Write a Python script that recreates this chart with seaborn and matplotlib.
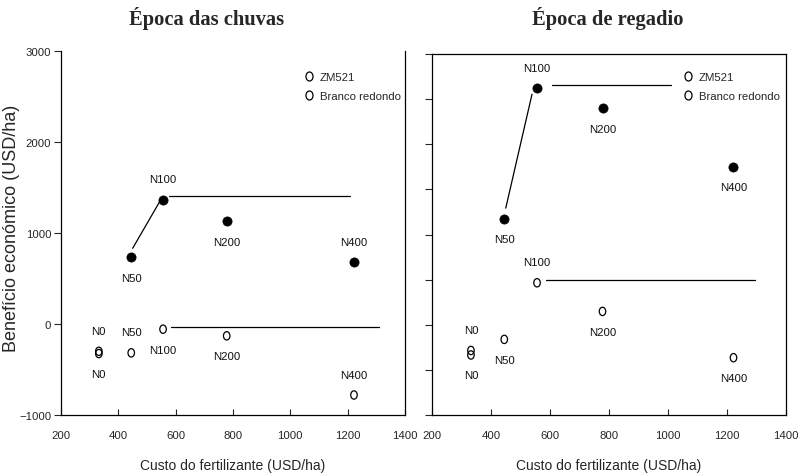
import numpy as np
import pandas as pd
import matplotlib
matplotlib.use("Agg")
import matplotlib.pyplot as plt
from matplotlib.path import Path
from matplotlib.lines import Line2D
import seaborn as sns

# Fertiliser treatments and their cost (USD/ha)
treatments = ["N0", "N50", "N100", "N200", "N400"]
cost = [332, 445, 556, 778, 1222]

# Economic benefit (USD/ha), rainy season
zm521_rain = [-300, 732, 1367, 1128, 677]
branco_rain = [-325, -317, -57, -130, -780]

# Economic benefit (USD/ha), irrigated season
zm521_irr = [-285, 1177, 2620, 2399, 1749]
branco_irr = [-335, -162, 465, 148, -365]

# Linear-plateau fits: ramp (x0, x1, y0, y1) and plateau (x0, x1, y)
zm521_rain_ramp = [450, 543, 832, 1338]
zm521_rain_plateau = [578, 1208, 1404]
branco_rain_plateau = [585, 1310, -31]
zm521_irr_ramp = [450, 539, 1292, 2554]
zm521_irr_plateau = [608, 1009, 2661]
branco_irr_plateau = [588, 1294, 498]

# Label placement for each point: +1 above, -1 below
zm521_rain_pos = [1, -1, 1, -1, 1]
branco_rain_pos = [-1, 1, -1, -1, 1]
zm521_irr_pos = [1, -1, 1, -1, -1]
branco_irr_pos = [-1, -1, 1, -1, -1]

titles = ["Época das chuvas", "Época de regadio"]
series_names = ["ZM521", "Branco redondo"]

sns.set_theme(style="white")
narrow = ["Liberation Sans Narrow", "Liberation Sans", "DejaVu Sans"]
plt.rcParams["font.family"] = narrow

fig = plt.figure(figsize=(7.99, 4.77), dpi=100)
ax_l = fig.add_axes([61 / 799, 1 - 416 / 477, 344 / 799, 364 / 477])
ax_r = fig.add_axes([432 / 799, 1 - 416 / 477, 354 / 799, 361 / 477])

# Slightly tall open ellipse, like a letter "O"
_c = Path.unit_circle()
o_marker = Path(_c.vertices * np.array([0.78, 1.0]), _c.codes)

TXT = 8.2


def draw_panel(ax, zm, br, ramp, zplat, bplat, zpos, bpos, leg_xy):
    df = pd.DataFrame({
        "cost": cost * 2,
        "benefit": zm + br,
        "variety": [series_names[0]] * 5 + [series_names[1]] * 5,
        "trt": treatments * 2,
    })
    filled = df[(df.variety == series_names[0]) & (df.trt != "N0")]
    hollow = df[~df.index.isin(filled.index)]
    sns.scatterplot(data=filled, x="cost", y="benefit", ax=ax, color="black",
                    s=44, marker="o", edgecolor="black", linewidth=0.5,
                    legend=False, zorder=3)
    sns.scatterplot(data=hollow, x="cost", y="benefit", ax=ax, marker=o_marker,
                    s=36, facecolors="none", edgecolor="black",
                    linewidth=0.9, legend=False, zorder=3)
    # fitted linear-plateau lines
    if ramp is not None:
        sns.lineplot(x=ramp[:2], y=ramp[2:], ax=ax, color="black", lw=0.9)
    for p in (zplat, bplat):
        sns.lineplot(x=p[:2], y=[p[2], p[2]], ax=ax, color="black", lw=0.9)
    # point labels
    for vals, pos in ((zm, zpos), (br, bpos)):
        for x, y, t, s in zip(cost, vals, treatments, pos):
            ax.text(x, y + s * 225, t, ha="center", va="center",
                    fontsize=TXT, color="#111111")
    ax.set_xlim(200, 1400)
    ax.set_ylim(-1000, 3000)
    ax.set_xticks(range(200, 1401, 200))
    ax.set_xlabel("Custo do fertilizante (USD/ha)", fontsize=10, labelpad=13)
    ax.set_ylabel("")
    ax.tick_params(axis="x", direction="in", length=4, width=0.8,
                   labelsize=TXT, pad=11, bottom=True)
    ax.tick_params(axis="y", direction="out", length=5, width=0.8,
                   labelsize=TXT, pad=2, left=True)
    for sp in ax.spines.values():
        sp.set_color("black")
        sp.set_linewidth(0.9)
    # legend with open symbols for both varieties
    handles = [Line2D([], [], ls="none", marker=o_marker, ms=6.5,
                      mfc="none", mec="black", mew=0.9) for _ in series_names]
    ax.legend(handles, series_names, loc="upper left", frameon=False,
              fontsize=TXT, handlelength=1.0, handletextpad=0.5,
              labelspacing=0.8, borderpad=0, borderaxespad=0,
              bbox_to_anchor=leg_xy)


draw_panel(ax_l, zm521_rain, branco_rain, zm521_rain_ramp,
           zm521_rain_plateau, branco_rain_plateau,
           zm521_rain_pos, branco_rain_pos, (0.703, 0.942))
draw_panel(ax_r, zm521_irr, branco_irr, zm521_irr_ramp,
           zm521_irr_plateau, branco_irr_plateau,
           zm521_irr_pos, branco_irr_pos, (0.706, 0.951))

ax_l.set_yticks(range(-1000, 3001, 1000))
ax_l.spines["top"].set_visible(False)
ax_l.set_ylabel("Benefício económico (USD/ha)", fontsize=13,
                family=["Liberation Sans", "DejaVu Sans"])
ax_l.yaxis.set_label_coords(-0.118, 0.516)

ax_r.set_yticks(range(-1000, 3001, 500))
ax_r.set_yticklabels([])

for xp, t in ((207, titles[0]), (608, titles[1])):
    fig.text(xp / 799, 1 - 19 / 477, t, ha="center", va="center",
             fontsize=14.8, fontweight="bold",
             family=["Liberation Serif", "DejaVu Serif"])

fig.savefig("out.png", dpi=100, facecolor="white")
